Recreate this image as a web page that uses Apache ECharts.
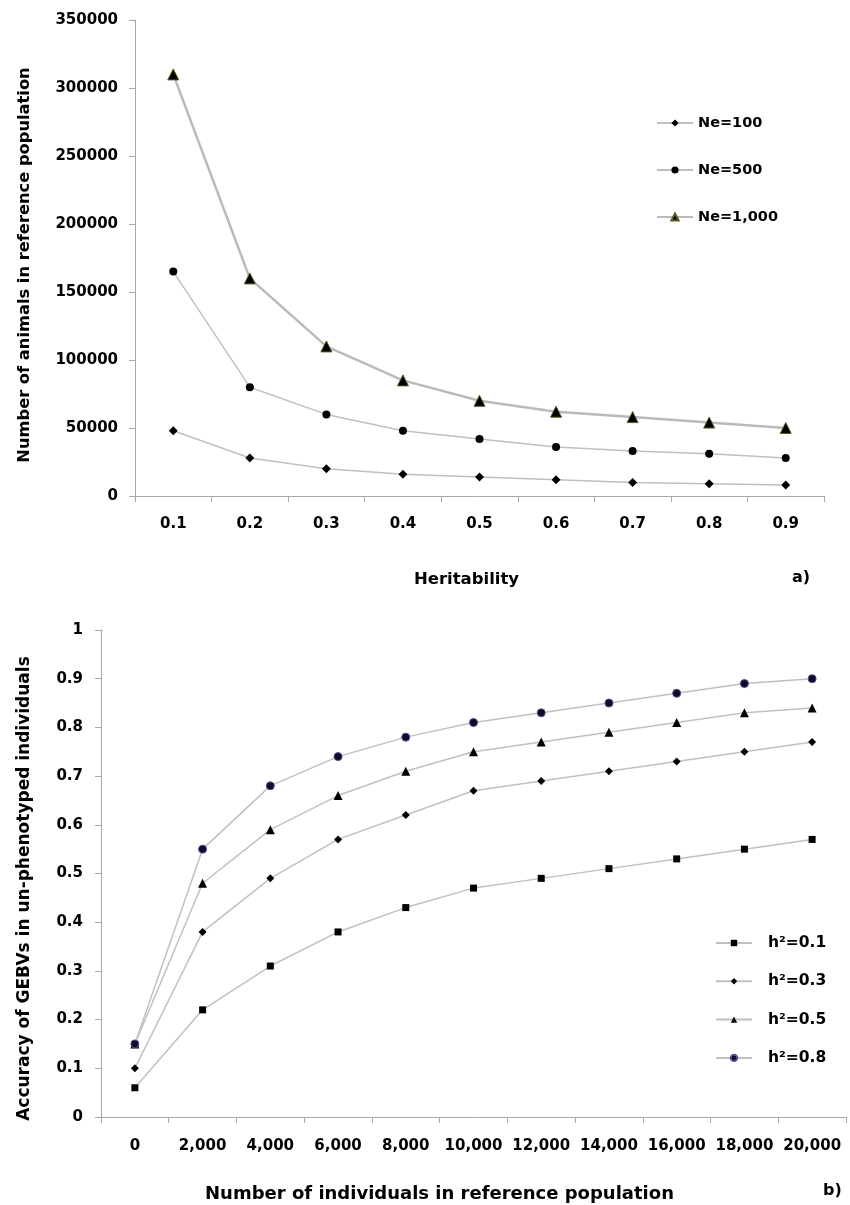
<!DOCTYPE html>
<html><head><meta charset="utf-8">
<script src="https://cdn.jsdelivr.net/npm/echarts@6/dist/echarts.min.js"></script>
<style>html,body{margin:0;padding:0;background:#fff}#c{width:850px;height:1205px}</style>
</head><body><div id="c"></div>
<script>
// ---- data (a) ----
const heritability = ['0.1','0.2','0.3','0.4','0.5','0.6','0.7','0.8','0.9'];
const ne100  = [48000, 28000, 20000, 16000, 14000, 12000, 10000, 9000, 8000];
const ne500  = [165000, 80000, 60000, 48000, 42000, 36000, 33000, 31000, 28000];
const ne1000 = [310000, 160000, 110000, 85000, 70000, 62000, 58000, 54000, 50000];
// ---- data (b) ----
const refSizes = ['0','2,000','4,000','6,000','8,000','10,000','12,000','14,000','16,000','18,000','20,000'];
const h01 = [0.06, 0.22, 0.31, 0.38, 0.43, 0.47, 0.49, 0.51, 0.53, 0.55, 0.57];
const h03 = [0.10, 0.38, 0.49, 0.57, 0.62, 0.67, 0.69, 0.71, 0.73, 0.75, 0.77];
const h05 = [0.15, 0.48, 0.59, 0.66, 0.71, 0.75, 0.77, 0.79, 0.81, 0.83, 0.84];
const h08 = [0.15, 0.55, 0.68, 0.74, 0.78, 0.81, 0.83, 0.85, 0.87, 0.89, 0.90];

const FONT = 'DejaVu Sans';
const axisGray = '#a8a8a8';
const lineGray = '#c0c0c0';
const lab = {color:'#000', fontFamily:FONT, fontWeight:'bold', fontSize:15};
const nameStyle = {color:'#000', fontFamily:FONT, fontWeight:'bold', fontSize:16};

function mkLine(name, data, xi, symbol, size, opts) {
  opts = opts || {};
  return {
    name, type:'line', data, xAxisIndex:xi, yAxisIndex:xi,
    symbol, symbolSize:size, showAllSymbol:true, animation:false,
    lineStyle:{color: opts.lineColor || lineGray, width: opts.lineWidth || 1.5},
    itemStyle:{color: opts.fill || '#000', borderColor: opts.border || '#000', borderWidth: opts.borderWidth || 0},
    emphasis:{disabled:true}
  };
}

const chart = echarts.init(document.getElementById('c'), null, {renderer:'canvas'});
chart.setOption({
  backgroundColor:'#fff',
  animation:false,
  grid:[
    {left:135, top:20, width:689, height:476},
    {left:101, top:630, width:745, height:487}
  ],
  xAxis:[
    {type:'category', gridIndex:0, data:heritability, boundaryGap:true,
     axisLine:{lineStyle:{color:axisGray, width:1}},
     axisTick:{show:true, length:6, lineStyle:{color:axisGray}},
     axisLabel:Object.assign({margin:21}, lab),
     name:'Heritability', nameLocation:'middle', nameGap:75,
     nameTextStyle:Object.assign({}, nameStyle, {fontSize:16.5, padding:[0,26,0,0]})},
    {type:'category', gridIndex:1, data:refSizes, boundaryGap:true,
     axisLine:{lineStyle:{color:axisGray, width:1}},
     axisTick:{show:true, length:6, lineStyle:{color:axisGray}},
     axisLabel:Object.assign({margin:22, interval:0}, lab),
     name:'Number of individuals in reference population', nameLocation:'middle', nameGap:68,
     nameTextStyle:Object.assign({}, nameStyle, {fontSize:18, padding:[0,68,0,0]})}
  ],
  yAxis:[
    {type:'value', gridIndex:0, min:0, max:350000, interval:50000,
     axisLine:{show:true, lineStyle:{color:axisGray, width:1}},
     axisTick:{show:true, length:6, lineStyle:{color:axisGray}},
     splitLine:{show:false},
     axisLabel:Object.assign({margin:17, formatter:function(v){return String(v);}}, lab),
     name:'Number of animals in reference population', nameLocation:'middle', nameGap:102, nameRotate:90,
     nameTextStyle:Object.assign({}, nameStyle, {fontSize:16.3, padding:[0,14,0,0]})},
    {type:'value', gridIndex:1, min:0, max:1, interval:0.1,
     axisLine:{show:true, lineStyle:{color:axisGray, width:1}},
     axisTick:{show:true, length:6, lineStyle:{color:axisGray}},
     splitLine:{show:false},
     axisLabel:Object.assign({margin:18}, lab),
     name:'Accuracy of GEBVs in un-phenotyped individuals', nameLocation:'middle', nameGap:68, nameRotate:90,
     nameTextStyle:Object.assign({}, nameStyle, {fontSize:17, padding:[0,30,0,0]})}
  ],
  legend:[
    {data:['Ne=100','Ne=500','Ne=1,000'], orient:'vertical', left:656, top:115, padding:0,
     itemWidth:36, itemHeight:9, itemGap:31,
     textStyle:{color:'#000', fontFamily:FONT, fontWeight:'bold', fontSize:14.5, lineHeight:16},
     selectedMode:false},
    {data:['h²=0.1','h²=0.3','h²=0.5','h²=0.8'], orient:'vertical', left:715, top:935, padding:0,
     itemWidth:36, itemHeight:8, itemGap:22.3,
     textStyle:{color:'#000', fontFamily:FONT, fontWeight:'bold', fontSize:15.5, lineHeight:16, padding:[0,0,0,11]},
     selectedMode:false}
  ],
  series:[
    mkLine('Ne=100', ne100, 0, 'diamond', 9),
    mkLine('Ne=500', ne500, 0, 'circle', 8),
    mkLine('Ne=1,000', ne1000, 0, 'triangle', 11, {lineWidth:2.5, lineColor:'#bababa', border:'#5c5c1e', borderWidth:1}),
    mkLine('h²=0.1', h01, 1, 'rect', 7),
    mkLine('h²=0.3', h03, 1, 'diamond', 8),
    mkLine('h²=0.5', h05, 1, 'triangle', 9),
    mkLine('h²=0.8', h08, 1, 'circle', 8, {fill:'#0e0a2a', border:'#5b4a8c', borderWidth:1})
  ],
  graphic:[
    {type:'text', left:792, top:570, style:{text:'a)', fill:'#000', font:'bold 16px "DejaVu Sans"'}},
    {type:'text', left:823, top:1183, style:{text:'b)', fill:'#000', font:'bold 16px "DejaVu Sans"'}}
  ]
});
</script></body></html>
